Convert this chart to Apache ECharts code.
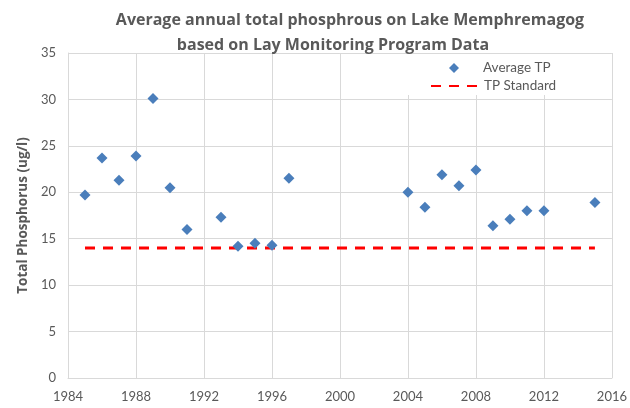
<!DOCTYPE html>
<html>
<head>
    <meta charset="utf-8">
    <script src="https://cdn.jsdelivr.net/npm/echarts@6/dist/echarts.min.js"></script>
    <style>
        html, body { margin: 0; padding: 0; background: #fff; }
    </style>
</head>
<body>
<div id="chart" style="width:630px;height:408px"></div>
<script>
    // yearly average total phosphorus (ug/l)
    var years = [1985, 1986, 1987, 1988, 1989, 1990, 1991, 1993, 1994, 1995, 1996, 1997,
                 2004, 2005, 2006, 2007, 2008, 2009, 2010, 2011, 2012, 2015];
    var avgTP = [19.7, 23.7, 21.3, 23.9, 30.1, 20.5, 16.0, 17.3, 14.2, 14.5, 14.3, 21.5,
                 20.0, 18.4, 21.9, 20.7, 22.4, 16.4, 17.1, 18.0, 18.0, 18.9];
    var standardYears = [1985, 2015];
    var standardValue = 14;
    var xTicks = [1984, 1988, 1992, 1996, 2000, 2004, 2008, 2012, 2016];

    var tpPoints = [];
    for (var i = 0; i < years.length; i++) {
        tpPoints.push([years[i], avgTP[i]]);
    }
    var stdPoints = [];
    for (var j = 0; j < standardYears.length; j++) {
        stdPoints.push([standardYears[j], standardValue]);
    }

    var font = 'Lato, "Open Sans", sans-serif';
    var boldFont = '"Open Sans", Lato, sans-serif';
    var textGray = '#595959';
    var gridGray = '#D9D9D9';
    var titleStyle = {
        fontFamily: boldFont,
        fontSize: 16,
        fontWeight: 'bold',
        color: textGray
    };

    var myChart = echarts.init(document.getElementById('chart'));
    var option = {
        animation: false,
        title: [
            {
                text: 'Average annual total phosphrous on Lake Memphremagog',
                left: 345, textAlign: 'center', top: 7,
                textStyle: titleStyle
            },
            {
                text: 'based on Lay Monitoring Program Data',
                left: 328, textAlign: 'center', top: 32,
                textStyle: titleStyle
            }
        ],
        legend: [
            {
                left: 408,
                top: 54,
                padding: [7, 14, 0, 41],
                itemWidth: 10,
                itemHeight: 10,
                backgroundColor: '#fff',
                textStyle: { fontFamily: font, fontSize: 13.5, color: textGray, padding: [0, 0, 0, 19] },
                data: [{ name: 'Average TP', icon: 'diamond' }]
            },
            {
                left: 408,
                top: 75,
                padding: [4, 14, 2, 22],
                itemWidth: 48,
                itemHeight: 14,
                backgroundColor: '#fff',
                textStyle: { fontFamily: font, fontSize: 13.5, color: textGray },
                data: [{ name: 'TP Standard', itemStyle: { opacity: 0 } }]
            }
        ],
        grid: {
            left: 68,
            right: 18,
            top: 53,
            bottom: 30
        },
        xAxis: {
            type: 'value',
            min: 1984,
            max: 2016,
            interval: 4,
            axisLine: { lineStyle: { color: gridGray } },
            axisTick: { show: false },
            axisLabel: {
                fontFamily: font, fontSize: 13, color: textGray, margin: 12,
                formatter: function (v) { return xTicks.indexOf(v) >= 0 ? String(v) : ''; }
            },
            splitLine: { show: true, lineStyle: { color: gridGray, width: 1 } }
        },
        yAxis: {
            type: 'value',
            min: 0,
            max: 35,
            interval: 5,
            name: 'Total Phosphorus (ug/l)',
            nameLocation: 'middle',
            nameGap: 38,
            nameTextStyle: { fontFamily: boldFont, fontSize: 13.5, fontWeight: 'bold', color: textGray },
            axisLine: { show: true, lineStyle: { color: gridGray } },
            axisTick: { show: false },
            axisLabel: { fontFamily: font, fontSize: 13, color: textGray, margin: 12 },
            splitLine: { show: true, lineStyle: { color: gridGray, width: 1 } }
        },
        series: [
            {
                name: 'Average TP',
                type: 'scatter',
                symbol: 'diamond',
                symbolSize: 11,
                itemStyle: { color: '#4A7EBB', opacity: 1 },
                data: tpPoints,
                z: 3
            },
            {
                name: 'TP Standard',
                type: 'line',
                symbol: 'none',
                lineStyle: { color: '#FF0000', width: 3, type: [10, 8] },
                itemStyle: { color: '#FF0000' },
                data: stdPoints,
                z: 2
            }
        ]
    };
    myChart.setOption(option);
</script>
</body>
</html>
